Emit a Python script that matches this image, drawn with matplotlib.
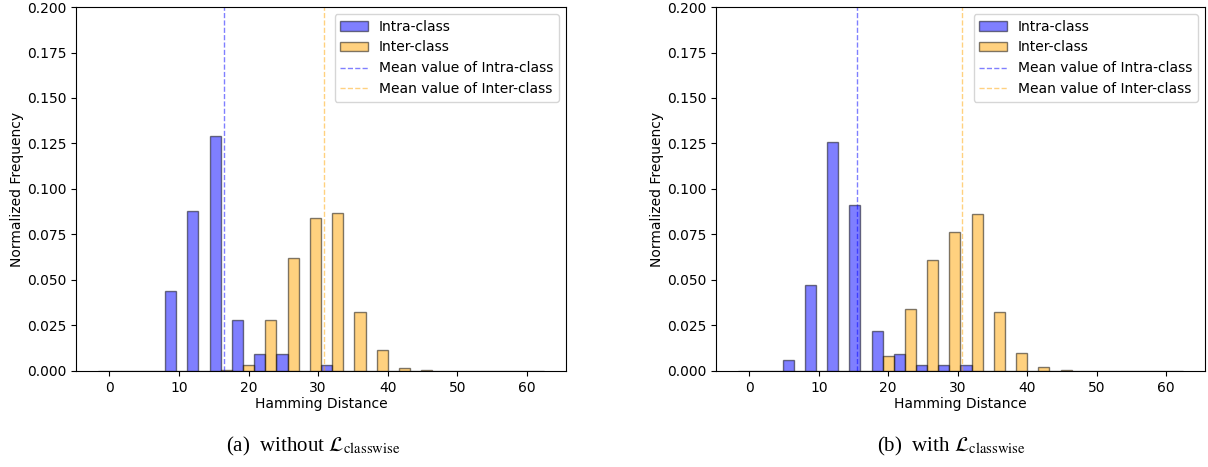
import numpy as np
import matplotlib
matplotlib.use("Agg")
import matplotlib.pyplot as plt

# 20 bins of width 3.2 centred on 0, 3.2, ..., 60.8 (density values)
bin_edges = np.arange(-1.6, 62.5, 3.2)
bin_centers = (bin_edges[:-1] + bin_edges[1:]) / 2

intra_a = [0, 0, 0, 0.0441, 0.0881, 0.129, 0.0282, 0.0093, 0.0093, 0,
           0.0031, 0, 0, 0, 0, 0, 0, 0, 0, 0]
inter_a = [0, 0, 0, 0, 0, 0.0003, 0.0031, 0.0282, 0.0623, 0.0841,
           0.087, 0.0322, 0.0117, 0.0016, 0.0003, 0, 0, 0, 0, 0]
mean_a = (16.5, 30.9)

intra_b = [0, 0, 0.0062, 0.0472, 0.126, 0.0912, 0.0219, 0.0093, 0.0031, 0.0031,
           0.0031, 0, 0, 0, 0, 0, 0, 0, 0, 0]
inter_b = [0, 0, 0, 0, 0, 0, 0.0084, 0.0342, 0.0609, 0.0762,
           0.0865, 0.0324, 0.0097, 0.0022, 0.0003, 0, 0, 0, 0, 0]
mean_b = (15.5, 30.6)

captions = [r"(a)  without $\mathcal{L}_{\mathrm{classwise}}$",
            r"(b)  with $\mathcal{L}_{\mathrm{classwise}}$"]

plt.rcParams.update({"mathtext.fontset": "stix"})
fig = plt.figure(figsize=(12.08, 4.67), dpi=100)
ax_a = fig.add_axes([0.0629, 0.2056, 0.4056, 0.7794])
ax_b = fig.add_axes([0.5927, 0.2056, 0.4048, 0.7794])


def panel(ax, intra, inter, means):
    ax.hist([bin_centers, bin_centers], bins=bin_edges, weights=[intra, inter],
            rwidth=1.0, color=["blue", "orange"], alpha=0.5, edgecolor="black",
            linewidth=1.0, label=["Intra-class", "Inter-class"])
    ax.axvline(means[0], color="blue", linestyle="--", alpha=0.5, linewidth=1,
               label="Mean value of Intra-class")
    ax.axvline(means[1], color="orange", linestyle="--", alpha=0.5, linewidth=1,
               label="Mean value of Inter-class")
    ax.set_ylim(0, 0.2)
    ax.set_yticks(np.arange(0, 0.2001, 0.025))
    ax.set_xlabel("Hamming Distance", fontsize=10, labelpad=2)
    ax.set_ylabel("Normalized Frequency", fontsize=10, labelpad=2)
    ax.tick_params(labelsize=10)
    ax.legend(loc="upper right", fontsize=10)


panel(ax_a, intra_a, inter_a, mean_a)
panel(ax_b, intra_b, inter_b, mean_b)

fig.text(313 / 1208, 0.045, captions[0], ha="center", va="center",
         fontsize=15, family="Liberation Serif")
fig.text(951 / 1208, 0.045, captions[1], ha="center", va="center",
         fontsize=15, family="Liberation Serif")

fig.savefig("out.png", dpi=100)
